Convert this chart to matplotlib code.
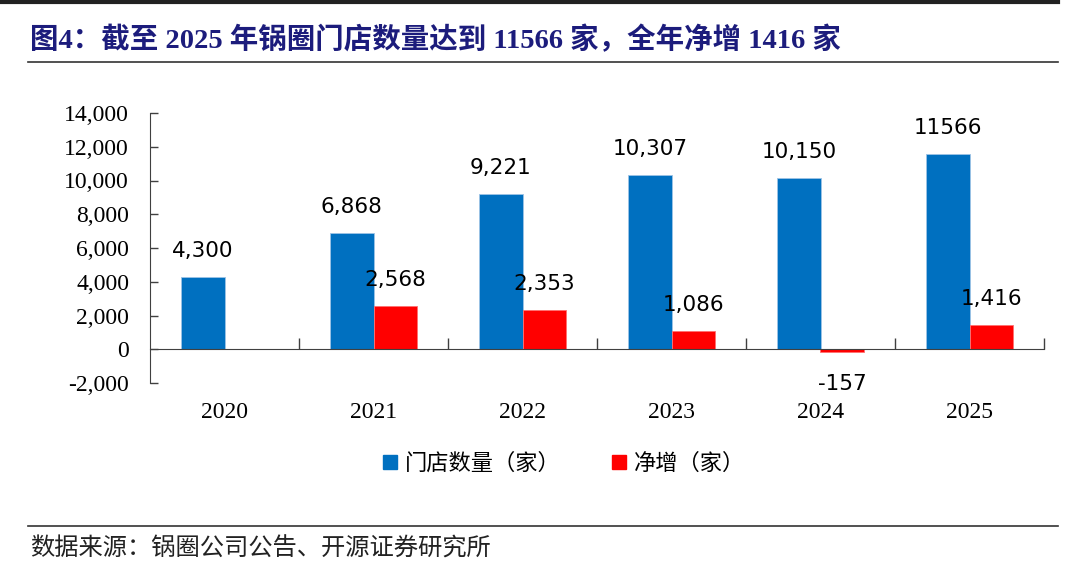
import matplotlib
matplotlib.use("Agg")
import matplotlib.pyplot as plt
from matplotlib.lines import Line2D
import matplotlib.transforms as mtransforms
import numpy as np

years = ["2020", "2021", "2022", "2023", "2024", "2025"]
stores = [4300, 6868, 9221, 10307, 10150, 11566]
net_add = [None, 2568, 2353, 1086, -157, 1416]
store_labels = ["4,300", "6,868", "9,221", "10,307", "10,150", "11566"]
net_labels = ["", "2,568", "2,353", "1,086", "-157", "1,416"]
yticks = [-2000, 0, 2000, 4000, 6000, 8000, 10000, 12000, 14000]
ytick_labels = ["-2,000", "0", "2,000", "4,000", "6,000", "8,000", "10,000", "12,000", "14,000"]

title = "图4：截至 2025 年锅圈门店数量达到 11566 家，全年净增 1416 家"
source = "数据来源：锅圈公司公告、开源证券研究所"
legend_names = ["门店数量（家）", "净增（家）"]

BLUE = "#0070C0"
RED = "#FF0000"
NAVY = "#1C1C7C"
SERIF = ["Liberation Serif", "Noto Sans CJK SC"]
CJK = ["Noto Sans CJK SC", "DejaVu Sans"]

fig = plt.figure(figsize=(10.8, 5.85), dpi=100)
ax = fig.add_axes([150/1080, 1-383/585, (1044-150)/1080, (383-113)/585])

x = np.arange(len(years))
w = 0.29
ax.bar(x - w/2, stores, w, color=BLUE, edgecolor="#9DC3E6", linewidth=0.6, zorder=2)
nx = [xi for xi, v in zip(x, net_add) if v is not None]
nv = [v for v in net_add if v is not None]
ax.bar(np.array(nx) + w/2, nv, w, color=RED, edgecolor="#FF7070", linewidth=0.6, zorder=2)

off = 950
off_neg = 1300
for xi, v, lab in zip(x, stores, store_labels):
    ax.text(xi - w/2, v + off, lab, ha="center", va="bottom", fontsize=15.5,
            family="DejaVu Sans", color="black")
for xi, v, lab in zip(x, net_add, net_labels):
    if v is None:
        continue
    if v >= 0:
        ax.text(xi + w/2, v + off, lab, ha="center", va="bottom", fontsize=15.5,
                family="DejaVu Sans", color="black")
    else:
        ax.text(xi + w/2, v - off_neg, lab, ha="center", va="top", fontsize=15.5,
                family="DejaVu Sans", color="black")

ax.set_xlim(-0.5, len(years) - 0.5)
ax.set_ylim(-2000, 14000)
ax.set_yticks(yticks)
ax.set_yticklabels(ytick_labels, family="Liberation Serif", fontsize=17)
ax.tick_params(axis="y", direction="in", length=6, width=1, color="#404040", pad=15)

ax.spines["top"].set_visible(False)
ax.spines["right"].set_visible(False)
ax.spines["left"].set_color("#404040")
ax.spines["bottom"].set_position(("data", 0))
ax.spines["bottom"].set_color("#404040")
ax.set_xticks(np.arange(len(years)) + 0.5)
ax.set_xticklabels([])
ax.tick_params(axis="x", direction="in", length=8, width=1, color="#404040")

trans = mtransforms.blended_transform_factory(ax.transData, ax.transAxes)
for xi, yr in zip(x, years):
    ax.text(xi, -0.108, yr, transform=trans, ha="center", va="center",
            family="Liberation Serif", fontsize=17, color="black")

handles = [Line2D([], [], marker="s", linestyle="none", markersize=10, color=BLUE),
           Line2D([], [], marker="s", linestyle="none", markersize=10, color=RED)]
fig.legend(handles, legend_names, loc="center", bbox_to_anchor=(563/1080, 1-463/585),
           ncol=2, frameon=False, prop={"family": CJK, "size": 16},
           handlelength=0.8, handletextpad=0.3, columnspacing=2.2)

# title and rules
fig.add_artist(Line2D([0, 1058/1080], [1-2/585, 1-2/585], color="#222222", linewidth=3))
fig.text(30/1080, 1-40/585, title, ha="left", va="center", fontsize=20.5,
         fontweight="bold", color=NAVY, family=SERIF)
fig.add_artist(Line2D([28/1080, 1058/1080], [1-62/585, 1-62/585], color="#333333", linewidth=1.2))
fig.add_artist(Line2D([28/1080, 1058/1080], [1-526/585, 1-526/585], color="#333333", linewidth=1.2))
fig.text(30/1080, 1-549/585, source, ha="left", va="center", fontsize=17.5,
         color="#222222", family=CJK)

fig.savefig("out.png", dpi=100)
